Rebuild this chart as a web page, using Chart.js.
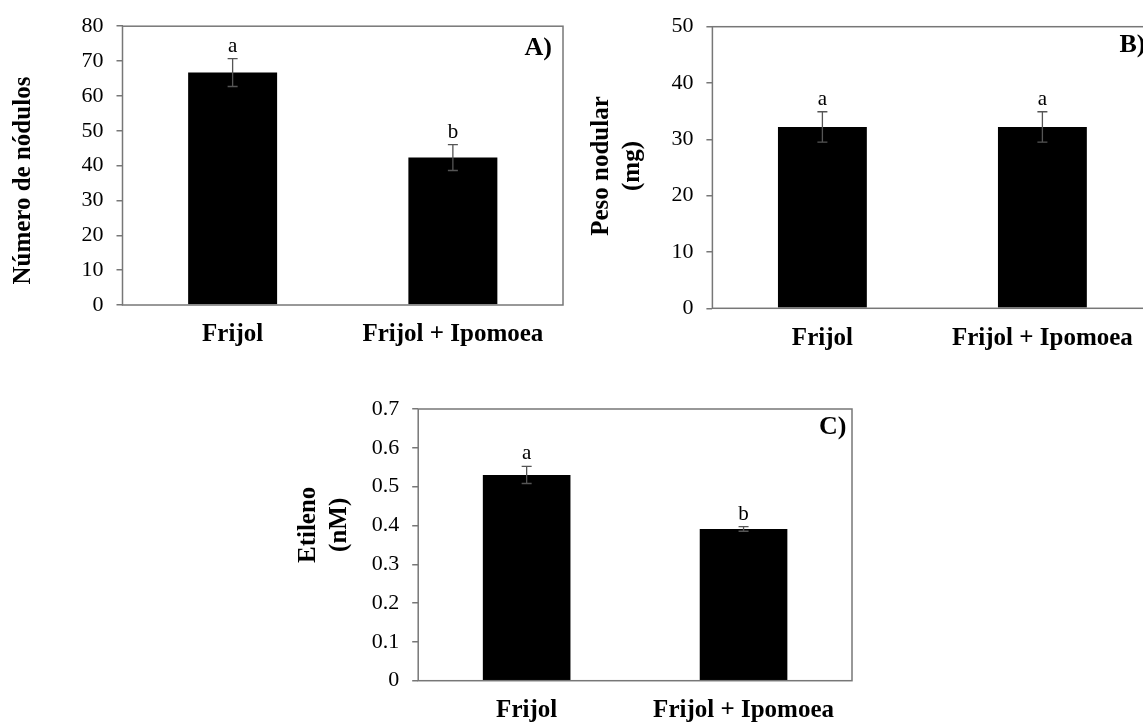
<!DOCTYPE html>
<html>
<head>
<meta charset="utf-8">
<title>Nódulos, peso nodular y etileno</title>
<script src="https://cdn.jsdelivr.net/npm/chart.js@4"></script>
<style>
  html, body { margin: 0; padding: 0; background: #fff; }
  body { position: relative; width: 1143px; height: 722px; overflow: hidden; }
  canvas { position: absolute; }
</style>
</head>
<body>
<canvas id="chartA" width="580" height="360" style="left:0;top:0"></canvas>
<canvas id="chartB" width="620" height="360" style="left:580px;top:0"></canvas>
<canvas id="chartC" width="580" height="352" style="left:290px;top:370px"></canvas>
<script>
// ── Data ────────────────────────────────────────────────────────
const categories = ['Frijol', 'Frijol + Ipomoea'];

const nodulosValues  = [66.7, 42.3];
const nodulosErrors  = [4.0, 3.7];
const nodulosLetters = ['a', 'b'];
const nodulosTicks   = [0, 10, 20, 30, 40, 50, 60, 70, 80];

const pesoValues  = [32.2, 32.2];
const pesoErrors  = [2.7, 2.7];
const pesoLetters = ['a', 'a'];
const pesoTicks   = [0, 10, 20, 30, 40, 50];

const etilenoValues  = [0.53, 0.391];
const etilenoErrors  = [0.022, 0.006];
const etilenoLetters = ['a', 'b'];
const etilenoTicks   = [0, 0.1, 0.2, 0.3, 0.4, 0.5, 0.6, 0.7];

const serif = "'Liberation Serif', 'Times New Roman', serif";
Chart.defaults.font.family = serif;
Chart.defaults.color = '#000';

// ── Frame, error bars, letters, panel tag, y title ─────────────
const panelDecor = {
  id: 'panelDecor',
  afterDatasetsDraw(chart, args, opts) {
    const ctx = chart.ctx;
    const area = chart.chartArea;
    const y = chart.scales.y;
    const bars = chart.getDatasetMeta(0).data;
    ctx.save();

    ctx.strokeStyle = '#777';
    ctx.lineWidth = 1.5;
    ctx.strokeRect(area.left, area.top, area.right - area.left, area.bottom - area.top);

    bars.forEach((bar, i) => {
      const v = opts.values[i], e = opts.errors[i];
      const yt = y.getPixelForValue(v + e);
      const yb = y.getPixelForValue(v - e);
      ctx.strokeStyle = '#555';
      ctx.lineWidth = 1.3;
      ctx.beginPath();
      ctx.moveTo(bar.x, yt); ctx.lineTo(bar.x, yb);
      ctx.moveTo(bar.x - 5, yt); ctx.lineTo(bar.x + 5, yt);
      ctx.moveTo(bar.x - 5, yb); ctx.lineTo(bar.x + 5, yb);
      ctx.stroke();

      ctx.fillStyle = '#000';
      ctx.font = '21px ' + serif;
      ctx.textAlign = 'center';
      ctx.textBaseline = 'alphabetic';
      ctx.fillText(opts.letters[i], bar.x, yt - 7);
    });

    ctx.font = 'bold 26px ' + serif;
    ctx.textAlign = 'right';
    ctx.fillText(opts.tag, area.right + opts.tagDx, area.top + opts.tagDy);

    ctx.font = 'bold 25px ' + serif;
    ctx.translate(opts.titleX, (area.top + area.bottom) / 2 + opts.titleDy);
    ctx.rotate(-Math.PI / 2);
    ctx.textAlign = 'center';
    ctx.textBaseline = 'middle';
    opts.title.forEach((line, k) => ctx.fillText(line, 0, k * 31));
    ctx.restore();
  }
};

function makePanel(id, cfg) {
  return new Chart(document.getElementById(id), {
    type: 'bar',
    data: {
      labels: categories,
      datasets: [{
        data: cfg.values,
        backgroundColor: '#000',
        borderWidth: 0,
        barPercentage: 0.404,
        categoryPercentage: 1,
      }]
    },
    options: {
      responsive: false,
      animation: false,
      devicePixelRatio: 1,
      layout: { padding: cfg.padding },
      plugins: {
        legend: { display: false },
        tooltip: { enabled: false },
        panelDecor: {
          values: cfg.values, errors: cfg.errors, letters: cfg.letters,
          tag: cfg.tag, tagDx: cfg.tagDx, tagDy: cfg.tagDy,
          title: cfg.title, titleX: cfg.titleX, titleDy: cfg.titleDy,
        }
      },
      scales: {
        x: {
          grid: { display: false, drawTicks: false },
          border: { display: false },
          ticks: {
            font: { size: 25, weight: 'bold' },
            padding: 15,
            maxRotation: 0,
            autoSkip: false,
          },
          afterFit: s => { s.height = cfg.xHeight; }
        },
        y: {
          min: cfg.ticks[0],
          max: cfg.ticks[cfg.ticks.length - 1],
          afterBuildTicks: s => { s.ticks = cfg.ticks.map(v => ({ value: v })); },
          ticks: { font: { size: 22 }, padding: 13, callback: v => String(v) },
          grid: { drawOnChartArea: false, drawTicks: true, tickLength: 6, color: '#777', lineWidth: 1.5 },
          border: { display: false },
          afterFit: s => { s.width = cfg.yWidth; }
        }
      }
    },
    plugins: [panelDecor]
  });
}

makePanel('chartA', {
  values: nodulosValues, errors: nodulosErrors, letters: nodulosLetters, ticks: nodulosTicks,
  yWidth: 122.5, xHeight: 55,
  padding: { top: 24, right: 17, left: 0, bottom: 0 },
  tag: 'A)', tagDx: -11, tagDy: 29,
  title: ['Número de nódulos'], titleX: 24, titleDy: 15,
});

makePanel('chartB', {
  values: pesoValues, errors: pesoErrors, letters: pesoLetters, ticks: pesoTicks,
  yWidth: 132.4, xHeight: 51.7,
  padding: { top: 26.7, right: 47.6, left: 0, bottom: 0 },
  tag: 'B)', tagDx: -7, tagDy: 25,
  title: ['Peso nodular', '(mg)'], titleX: 21.6, titleDy: -1.5,
});

makePanel('chartC', {
  values: etilenoValues, errors: etilenoErrors, letters: etilenoLetters, ticks: etilenoTicks,
  yWidth: 128.2, xHeight: 41.3,
  padding: { top: 39, right: 18, left: 0, bottom: 0 },
  tag: 'C)', tagDx: -5.5, tagDy: 25,
  title: ['Etileno', '(nM)'], titleX: 18.6, titleDy: -20,
});
</script>
</body>
</html>
